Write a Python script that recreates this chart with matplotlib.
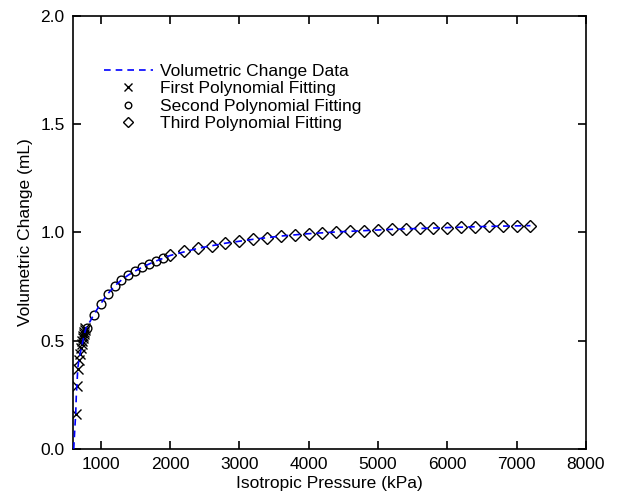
import matplotlib
matplotlib.use("Agg")
import matplotlib.pyplot as plt

plt.rcParams['font.family'] = ['Liberation Sans', 'DejaVu Sans']

data_pressure = [612, 618, 625, 632, 640, 648, 658, 670, 685, 705, 725, 745, 765, 790,
                 850, 900, 1000, 1100, 1200, 1300, 1400, 1500, 1600, 1700, 1800, 1900,
                 2000, 2400, 2800, 3200, 3600, 4000, 4400, 4800, 5200, 5600, 6000,
                 6400, 6800, 7200]
data_volume = [0.0, 0.04, 0.08, 0.12, 0.16, 0.24, 0.30, 0.37, 0.41, 0.44, 0.47, 0.50, 0.53, 0.56,
               0.59, 0.62, 0.67, 0.715, 0.752, 0.780, 0.803, 0.822, 0.839, 0.854, 0.868, 0.880,
               0.893, 0.926, 0.950, 0.968, 0.983, 0.994, 1.002, 1.008, 1.014, 1.018, 1.022,
               1.026, 1.029, 1.031]

# first polynomial fitting
fit1_pressure = [645, 655, 668, 682, 698, 712, 724, 734, 743, 751, 758, 765, 772, 778]
fit1_volume = [0.16, 0.29, 0.37, 0.41, 0.44, 0.465, 0.485, 0.50, 0.51, 0.52, 0.53, 0.54, 0.55, 0.56]

# second polynomial fitting
fit2_pressure = [800, 900, 1000, 1100, 1200, 1300, 1400, 1500, 1600, 1700, 1800, 1900]
fit2_volume = [0.56, 0.62, 0.67, 0.715, 0.752, 0.780, 0.803, 0.822, 0.839, 0.854, 0.868, 0.880]

# third polynomial fitting
fit3_pressure = [2000, 2200, 2400, 2600, 2800, 3000, 3200, 3400, 3600, 3800, 4000, 4200, 4400,
                 4600, 4800, 5000, 5200, 5400, 5600, 5800, 6000, 6200, 6400, 6600, 6800, 7000, 7200]
fit3_volume = [0.896, 0.913, 0.926, 0.938, 0.950, 0.960, 0.968, 0.976, 0.983, 0.989, 0.994, 0.998,
               1.002, 1.005, 1.008, 1.011, 1.014, 1.016, 1.018, 1.020, 1.022, 1.024, 1.026, 1.028,
               1.029, 1.030, 1.031]

xticks = [1000, 2000, 3000, 4000, 5000, 6000, 7000, 8000]
yticks = [0.0, 0.5, 1.0, 1.5, 2.0]


def main():
    fig = plt.figure(figsize=(6.18, 4.96), dpi=100)
    ax = fig.add_axes([0.118, 0.095, 0.83, 0.873])

    ax.plot(data_pressure, data_volume, linestyle=(0, (4, 3)), color="#0000FF",
            linewidth=1.2, label="Volumetric Change Data", zorder=3)
    ax.plot(fit1_pressure, fit1_volume, linestyle="none", marker="x", markersize=7,
            markeredgewidth=1.0, color="black", label="First Polynomial Fitting")
    ax.plot(fit2_pressure, fit2_volume, linestyle="none", marker="o", markersize=6.3,
            markerfacecolor="none", markeredgewidth=1.0, color="black",
            label="Second Polynomial Fitting")
    ax.plot(fit3_pressure, fit3_volume, linestyle="none", marker="D", markersize=6.5,
            markerfacecolor="none", markeredgewidth=1.0, color="black",
            label="Third Polynomial Fitting")

    ax.set_xlim(600, 8000)
    ax.set_ylim(0, 2.0)
    ax.set_xticks(xticks)
    ax.set_yticks(yticks)
    ax.set_yticklabels([f"{v:.1f}" for v in yticks])

    ax.tick_params(direction="in", top=True, right=True, length=5.5, width=1.2,
                   labelsize=12.5, pad=6)
    for spine in ax.spines.values():
        spine.set_linewidth(1.2)

    ax.set_xlabel("Isotropic Pressure (kPa)", fontsize=12.5, labelpad=3)
    ax.set_ylabel("Volumetric Change (mL)", fontsize=12.5, labelpad=5)

    ax.legend(loc="upper left", bbox_to_anchor=(0.03, 0.925), frameon=False,
              fontsize=12.5, labelspacing=0.12, handlelength=2.8,
              handletextpad=0.45, markerscale=0.75)

    fig.savefig("out.png", dpi=100)


if __name__ == "__main__":
    main()
